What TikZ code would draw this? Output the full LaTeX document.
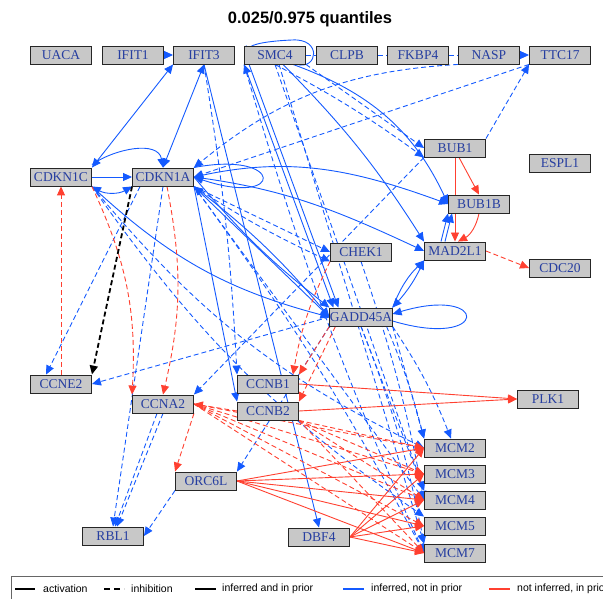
\documentclass[tikz,border=0pt]{standalone}
\usepackage{fontspec}
\setmainfont{Liberation Serif}
\newfontfamily\legendfont{Liberation Sans}
\usetikzlibrary{arrows.meta}
\definecolor{eblue}{RGB}{20,90,255}
\definecolor{ered}{RGB}{255,64,48}
\definecolor{boxfill}{RGB}{200,200,200}
\definecolor{labelblue}{RGB}{38,62,160}
\tikzset{
  >={Triangle[length=9pt,width=8pt]},
  gene/.style={draw=black!85, line width=0.9pt, fill=boxfill, text=labelblue,
    minimum width=61pt, minimum height=18pt, inner sep=0pt,
    font=\fontsize{13.5}{14}\selectfont},
  edgeline/.style={line width=0.9pt, ->},
  bs/.style={edgeline, draw=eblue},
  bd/.style={bs, dash pattern=on 5pt off 3pt},
  rs/.style={edgeline, draw=ered},
  rd/.style={rs, dash pattern=on 5pt off 3pt},
  kd/.style={edgeline, draw=black, line width=1.8pt, dash pattern=on 5pt off 3pt},
  legline/.style={line width=2.6pt},
  legtext/.style={anchor=west, inner sep=0pt, font=\legendfont\fontsize{10.5}{12}\selectfont}
}
\begin{document}
\begin{tikzpicture}[x=1pt,y=-1pt]
\useasboundingbox (0,0) rectangle (603,599);
\clip (0,0) rectangle (603,599);

% title
\node[font=\legendfont\bfseries\fontsize{16.5}{19}\selectfont] (title) at (310,19) {0.025/0.975 quantiles};

% genes
\node[gene] (UACA)    at (61,55)  {UACA};
\node[gene] (IFIT1)   at (133,55) {IFIT1};
\node[gene] (IFIT3)   at (204,55) {IFIT3};
\node[gene] (SMC4)    at (275,55) {SMC4};
\node[gene] (CLPB)    at (347,55) {CLPB};
\node[gene] (FKBP4)   at (418,55) {FKBP4};
\node[gene] (NASP)    at (489,55) {NASP};
\node[gene] (TTC17)   at (560,55) {TTC17};
\node[gene] (BUB1)    at (455,148) {BUB1};
\node[gene] (ESPL1)   at (560,163) {ESPL1};
\node[gene] (CDKN1C)  at (61,177) {CDKN1C};
\node[gene] (CDKN1A)  at (163,177) {CDKN1A};
\node[gene] (BUB1B)   at (479,204) {BUB1B};
\node[gene] (MAD2L1)  at (455,251) {MAD2L1};
\node[gene] (CHEK1)   at (361,252) {CHEK1};
\node[gene] (CDC20)   at (560,268) {CDC20};
\node[gene] (GADD45A) at (361,317) {GADD45A};
\node[gene] (CCNE2)   at (61,384) {CCNE2};
\node[gene] (CCNB1)   at (268,384) {CCNB1};
\node[gene] (CCNA2)   at (163,404) {CCNA2};
\node[gene] (CCNB2)   at (268,411) {CCNB2};
\node[gene] (PLK1)    at (548,399) {PLK1};
\node[gene] (MCM2)    at (455,448) {MCM2};
\node[gene] (MCM3)    at (455,474) {MCM3};
\node[gene] (ORC6L)   at (206,481) {ORC6L};
\node[gene] (MCM4)    at (455,500) {MCM4};
\node[gene] (MCM5)    at (455,526) {MCM5};
\node[gene] (RBL1)    at (113,536) {RBL1};
\node[gene] (DBF4)    at (319,537) {DBF4};
\node[gene] (MCM7)    at (455,553) {MCM7};

% ---- inferred, not in prior: solid ----
\draw[bs] (IFIT1) -- (IFIT3);
\draw[bs] (NASP) -- (TTC17);
\draw[bs] ([xshift=22pt]SMC4.south) .. controls (318,70) and (322,38) .. (292,40)
          .. controls (268,41) and (252,44) .. (SMC4.west);
\draw[bs,<->] (CDKN1C.north east) -- (IFIT3.south west);
\draw[bs,<->] (CDKN1A.north) -- (IFIT3.south);
\draw[bs] (CDKN1C.east) -- (CDKN1A.west);
\draw[bs] ([yshift=3pt]CDKN1C.north east) to[out=35,in=100] (CDKN1A.north);
\draw[bs,<->] (CDKN1A.south west) to[out=-150,in=-30] (CDKN1C.south east);
\draw[bs] (CDKN1A.north east) .. controls (285,150) and (285,208) .. (CDKN1A.east);
\draw[bs,<->] (CDKN1A.east) to[out=12,in=160] (BUB1B.west);
\draw[bs,<->] (CDKN1A.east) to[out=-8,in=155] (MAD2L1.west);
\draw[bs,<->] (CDKN1A.south east) -- (GADD45A.west);
\draw[bs,<->] (CDKN1A.south east) to[bend left=6] (GADD45A.west);
\draw[bs] (CDKN1A.east) to[bend right=6] (GADD45A.north west);
\draw[bs] (CDKN1C.south east) to[bend right=14] (GADD45A.west);
\draw[bs,<->] (SMC4.south west) -- ([xshift=4pt]GADD45A.north west);
\draw[bs] ([xshift=5pt]SMC4.south west) -- ([xshift=9pt]GADD45A.north west);
\draw[bs] ([xshift=18pt]SMC4.south) to[out=-20,in=115] (BUB1B.west);
\draw[bs] ([xshift=8pt]SMC4.south) to[bend left=6] (MAD2L1.north west);
\draw[bs] (IFIT3.south) -- (DBF4.north);
\draw[bs] (CDKN1A.south east) -- (CCNB2.north west);
\draw[bs] ([yshift=-4pt]GADD45A.east) .. controls (490,350) and (490,285) .. ([yshift=3pt]GADD45A.east);
\draw[bs] (GADD45A.north east) to[bend left=12] (MAD2L1.south west);
\draw[bs,<->] (GADD45A.north east) to[bend right=8] (MAD2L1.south west);
\draw[bs] ([xshift=-14pt]MAD2L1.north) -- (BUB1B.south west);
\draw[bs] ([xshift=-10pt]MAD2L1.north) -- ([xshift=4pt]BUB1B.south west);

% ---- inferred, not in prior: dashed ----
\draw[bd,-] (SMC4) -- (CLPB);
\draw[bd,-] (CLPB) -- (FKBP4);
\draw[bd,-] (FKBP4) -- (NASP);
\draw[bd] (BUB1.north east) -- (TTC17.south west);
\draw[bd] (NASP.south west) to[bend right=18] (CDKN1A.north east);
\draw[bd] (TTC17.south west) -- (CDKN1A.east);
\draw[bd] (SMC4.south east) -- (BUB1.west);
\draw[bd] (SMC4.south) to[bend left=4] (BUB1.south west);
\draw[bd] (BUB1.south west) -- (CCNA2.north east);
\draw[bd] (CDKN1A.south east) -- (CHEK1.west);
\draw[bd] (CDKN1A.south east) to[bend right=4] (CHEK1.south west);
\draw[bd] (GADD45A.south east) -- (MCM2.north west);
\draw[bd] ([xshift=-6pt]GADD45A.south east) to[bend left=4] (MCM2.north west);
\draw[bd] (GADD45A.south east) to[bend left=6] ([xshift=-4pt]MCM2.north);
\draw[bd] (GADD45A.south) -- (MCM4.north west);
\draw[bd] (GADD45A.south) to[bend left=5] (MCM7.north west);
\draw[bd] (CHEK1.south) to[bend left=4] (MCM4.west);
\draw[bd] (SMC4.south) -- (MCM4.north west);
\draw[bd] ([xshift=4pt]SMC4.south) -- (MCM7.north west);
\draw[bd] (SMC4.south west) to[bend right=4] (MCM7.west);
\draw[bd] (CDKN1A.south east) -- (MCM4.west);
\draw[bd] (CDKN1A.south east) to[bend left=4] (MCM7.west);
\draw[bd] (CDKN1C.south east) to[bend right=12] (MCM2.west);
\draw[bd] (CDKN1C.south east) to[bend right=10] (MCM5.north west);
\draw[bd] (IFIT3.south) to[bend left=3] (CCNB1.north west);
\draw[bd] ([xshift=8pt]CDKN1A.south west) -- ([xshift=16pt]CCNE2.north west);
\draw[bd] (GADD45A.west) -- (CCNE2.east);
\draw[bd] (CDKN1A.south) -- (RBL1.north);
\draw[bd] ([xshift=-6pt]CCNA2.south) -- ([xshift=2pt]RBL1.north);
\draw[bd] (CCNA2.south) -- ([xshift=4pt]RBL1.north);
\draw[bd] (ORC6L.south west) -- (RBL1.east);
\draw[bd] (GADD45A.south west) -- (ORC6L.north east);

% ---- in the prior, not inferred ----
\draw[rs] ([xshift=4pt]BUB1.south) -- (BUB1B.north);
\draw[rs] (BUB1.south) -- (MAD2L1.north);
\draw[rs] (BUB1B.south) to[bend left=25] ([xshift=3pt]MAD2L1.north);
\draw[rd] (MAD2L1.east) -- (CDC20.west);
\draw[rd] (CCNE2.north) -- (CDKN1C.south);
\draw[rd] (CDKN1C.south east) to[bend left=14] (CCNA2.north west);
\draw[rd] ([xshift=4pt]CDKN1A.south) to[bend left=12] (CCNA2.north);
\draw[rd] (GADD45A.south west) -- (CCNB1.north east);
\draw[rd] ([xshift=6pt]GADD45A.south west) -- (CCNB2.north east);
\draw[rd] (CHEK1.south west) to[bend right=8] ([xshift=-6pt]CCNB1.north east);
\draw[rs] (CCNB1.east) -- (PLK1.west);
\draw[rs] (CCNB2.east) -- (PLK1.west);
\draw[rd] (CCNB2.west) -- (CCNA2.east);
\draw[rd] (CCNA2.south east) -- (ORC6L.north west);
\foreach \m in {MCM2,MCM3,MCM4,MCM5,MCM7}{
  \draw[rd] (CCNA2.east) -- (\m.west);
  \draw[rs] (ORC6L.east) -- (\m.west);
  \draw[rs] (DBF4.east) -- (\m.west);
}
\foreach \m in {MCM2,MCM3,MCM4,MCM7}{
  \draw[rd] (CCNB2.south east) -- (\m.west);
}

% ---- inferred and in the prior ----
\draw[kd] (CDKN1A.south west) -- (CCNE2.north east);

% boxes drawn again on top of the connectors
\foreach \g in {UACA,IFIT1,IFIT3,SMC4,CLPB,FKBP4,NASP,TTC17,BUB1,ESPL1,CDKN1C,CDKN1A,BUB1B,MAD2L1,CHEK1,CDC20,GADD45A,CCNE2,CCNB1,CCNA2,CCNB2,PLK1,MCM2,MCM3,ORC6L,MCM4,MCM5,RBL1,DBF4,MCM7}{
  \node[gene] at (\g) {\g};
}

% legend
\draw[black!60, line width=1pt] (11,576) rectangle (640,620);
\draw[legline] (15,589) coordinate (l1a) -- (35,589) coordinate (l1b);
\node[legtext] (t1) at (43,589) {activation};
\draw[legline, dash pattern=on 6pt off 4pt] (104,589) coordinate (l2a) -- (124,589) coordinate (l2b);
\node[legtext] (t2) at (131,589) {inhibition};
\draw[legline] (195,589) coordinate (l3a) -- (216,589) coordinate (l3b);
\node[legtext] (t3) at (222,589) {inferred and in prior};
\draw[legline, eblue] (343,589) coordinate (l4a) -- (364,589) coordinate (l4b);
\node[legtext] (t4) at (371,589) {inferred, not in prior};
\draw[legline, ered] (489,589) coordinate (l5a) -- (510,589) coordinate (l5b);
\node[legtext] (t5) at (517,589) {not inferred, in prior};
\end{tikzpicture}
\end{document}
